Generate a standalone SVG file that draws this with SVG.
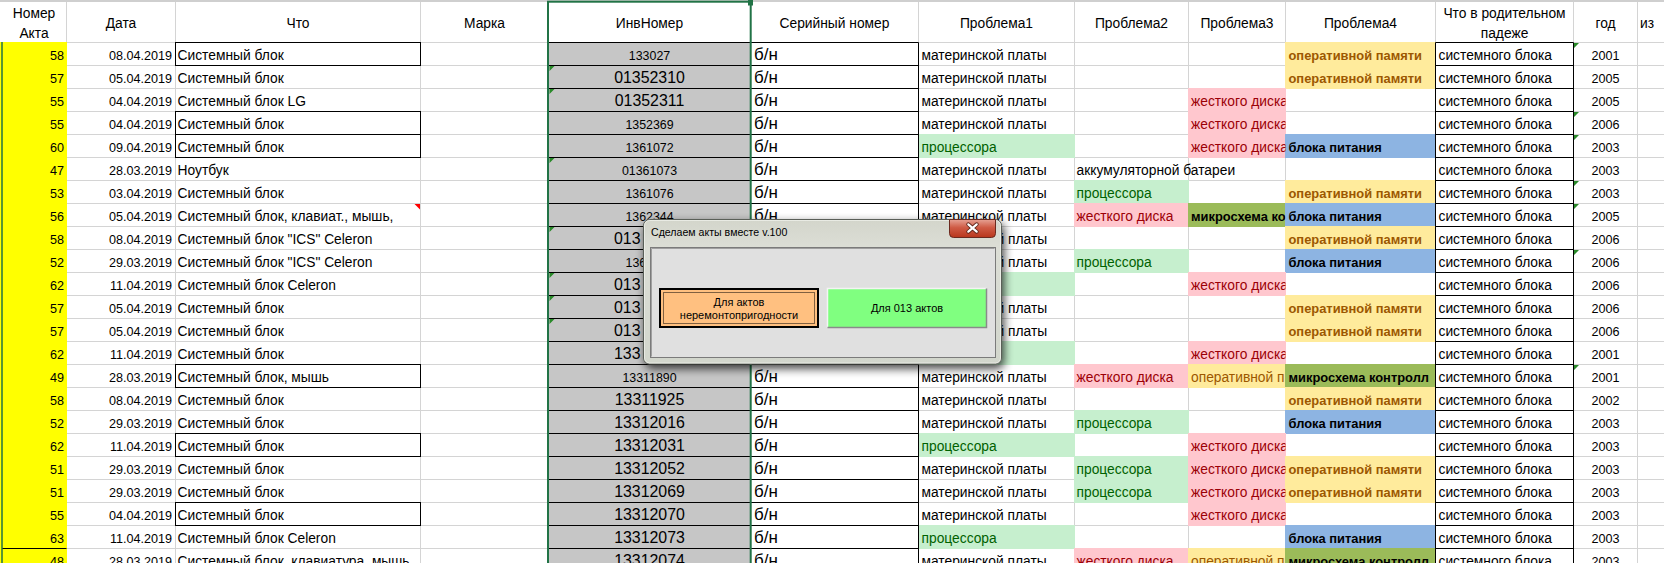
<svg xmlns="http://www.w3.org/2000/svg" width="1664" height="563" viewBox="0 0 1664 563">
<defs>
<style>
text{font-family:"Liberation Sans",Arial,sans-serif;font-size:13.8px;fill:#000}
.n{font-size:12.6px}
.e{text-anchor:end}
.m{text-anchor:middle}
.ib{font-size:15.9px;text-anchor:middle}
.is{font-size:12.4px;text-anchor:middle}
.ibs{font-size:15.9px}
.iss{font-size:12.4px}
.sn{font-size:17px}
.bd{font-weight:bold;font-size:12.9px}
.tg{fill:#006100}.tr{fill:#9c0006}.to{fill:#9c5700}
.grid{stroke:#d4d4d4;stroke-width:1;fill:none}
.blk{stroke:#000;stroke-width:1;fill:none}
.fy{fill:#ffff00}.fg{fill:#c6efce}.fr{fill:#ffc7ce}.fo{fill:#ffeb9c}.fb{fill:#8db4e2}.fd{fill:#9bbb59}.fe{fill:#c6c6c6}
.tri{fill:#2a8a2a}
.dlg text{font-size:11px}
.dlg text.ttl{font-size:10.6px}
</style>
<clipPath id="cI" clipPathUnits="userSpaceOnUse"><rect x="1188.5" y="-5" width="97" height="35"/></clipPath>
<clipPath id="cJ" clipPathUnits="userSpaceOnUse"><rect x="1285.5" y="-5" width="150" height="35"/></clipPath>
<filter id="sh" x="-10%" y="-20%" width="120%" height="145%">
<feGaussianBlur in="SourceAlpha" stdDeviation="5"/>
<feOffset dx="2" dy="4"/>
<feComponentTransfer><feFuncA type="linear" slope="0.75"/></feComponentTransfer>
<feMerge><feMergeNode/><feMergeNode in="SourceGraphic"/></feMerge>
</filter>
<linearGradient id="glass" x1="0" y1="0" x2="0" y2="1">
<stop offset="0" stop-color="#d3d5cb"/><stop offset="0.2" stop-color="#dcded6"/><stop offset="1" stop-color="#d2d6cc"/>
</linearGradient>
<linearGradient id="closeg" x1="0" y1="0" x2="0" y2="1">
<stop offset="0" stop-color="#e6a193"/><stop offset="0.45" stop-color="#cf5b45"/><stop offset="1" stop-color="#b8361c"/>
</linearGradient>
</defs>

<rect x="0" y="0" width="1664" height="563" fill="#fff"/>
<rect x="0" y="0" width="1664" height="2" fill="#cfcfcf"/>

<g id="gridlines">
<path class="grid" d="M66.5 2V563M175.5 2V563M420.5 2V563M548.5 2V563M750.5 2V563M918.5 2V563M1074.5 2V563M1188.5 2V563M1285.5 2V563M1435.5 2V563M1573.5 2V563M1637.5 2V563"/>
<path class="grid" d="M0 42.5H1664M0 65.5H1664M0 88.5H1664M0 111.5H1664M0 134.5H1664M0 157.5H1664M0 180.5H1664M0 203.5H1664M0 226.5H1664M0 249.5H1664M0 272.5H1664M0 295.5H1664M0 318.5H1664M0 341.5H1664M0 364.5H1664M0 387.5H1664M0 410.5H1664M0 433.5H1664M0 456.5H1664M0 479.5H1664M0 502.5H1664M0 525.5H1664M0 548.5H1664"/>
</g>

<g id="column-fills">
<rect class="fy" x="0" y="42" width="67" height="521"/>
<rect class="fe" x="548" y="42" width="203" height="521"/>
</g>

<g id="header">
<text x="34" y="18" class="m">Номер</text>
<text x="34" y="38" class="m">Акта</text>
<text x="121" y="28" class="m">Дата</text>
<text x="298" y="28" class="m">Что</text>
<text x="484.5" y="28" class="m">Марка</text>
<text x="649.5" y="28" class="m">ИнвНомер</text>
<text x="834.5" y="28" class="m">Серийный номер</text>
<text x="996.5" y="28" class="m">Проблема1</text>
<text x="1131.5" y="28" class="m">Проблема2</text>
<text x="1237" y="28" class="m">Проблема3</text>
<text x="1360.5" y="28" class="m">Проблема4</text>
<text x="1504.5" y="18" class="m">Что в родительном</text>
<text x="1504.5" y="38" class="m">падеже</text>
<text x="1605.5" y="28" class="m">год</text>
<text x="1640" y="28">из</text>
</g>

<g id="r0" transform="translate(0,42.5)">
<rect class="fo" x="1285" y="-0.5" width="151" height="24"/>
<text x="64" y="17.5" class="n e">58</text><text x="172" y="17.5" class="n e">08.04.2019</text><text x="177.5" y="17.5">Системный блок</text>
<text x="649.5" y="17.5" class="is">133027</text><text x="754" y="17.5" class="sn">б/н</text>
<text x="921.5" y="17.5">материнской платы</text>
<text x="1288.5" y="17.5" class="bd to">оперативной памяти</text>
<text x="1438.5" y="17.5">системного блока</text><text x="1605.5" y="17.5" class="n m">2001</text>
</g>
<g id="r1" transform="translate(0,65.5)">
<rect class="fo" x="1285" y="-0.5" width="151" height="24"/>
<text x="64" y="17.5" class="n e">57</text><text x="172" y="17.5" class="n e">05.04.2019</text><text x="177.5" y="17.5">Системный блок</text>
<text x="649.5" y="17.5" class="ib">01352310</text><text x="754" y="17.5" class="sn">б/н</text>
<text x="921.5" y="17.5">материнской платы</text>
<text x="1288.5" y="17.5" class="bd to">оперативной памяти</text>
<text x="1438.5" y="17.5">системного блока</text><text x="1605.5" y="17.5" class="n m">2005</text>
</g>
<g id="r2" transform="translate(0,88.5)">
<rect class="fr" x="1188" y="-0.5" width="98" height="24"/>
<text x="64" y="17.5" class="n e">55</text><text x="172" y="17.5" class="n e">04.04.2019</text><text x="177.5" y="17.5">Системный блок LG</text>
<text x="649.5" y="17.5" class="ib">01352311</text><text x="754" y="17.5" class="sn">б/н</text>
<text x="921.5" y="17.5">материнской платы</text>
<text x="1191" y="17.5" class="tr" clip-path="url(#cI)">жесткого диска</text>
<text x="1438.5" y="17.5">системного блока</text><text x="1605.5" y="17.5" class="n m">2005</text>
</g>
<g id="r3" transform="translate(0,111.5)">
<rect class="fr" x="1188" y="-0.5" width="98" height="24"/>
<text x="64" y="17.5" class="n e">55</text><text x="172" y="17.5" class="n e">04.04.2019</text><text x="177.5" y="17.5">Системный блок</text>
<text x="649.5" y="17.5" class="is">1352369</text><text x="754" y="17.5" class="sn">б/н</text>
<text x="921.5" y="17.5">материнской платы</text>
<text x="1191" y="17.5" class="tr" clip-path="url(#cI)">жесткого диска</text>
<text x="1438.5" y="17.5">системного блока</text><text x="1605.5" y="17.5" class="n m">2006</text>
</g>
<g id="r4" transform="translate(0,134.5)">
<rect class="fg" x="918" y="-0.5" width="157" height="24"/>
<rect class="fr" x="1188" y="-0.5" width="98" height="24"/>
<rect class="fb" x="1285" y="-0.5" width="151" height="24"/>
<text x="64" y="17.5" class="n e">60</text><text x="172" y="17.5" class="n e">09.04.2019</text><text x="177.5" y="17.5">Системный блок</text>
<text x="649.5" y="17.5" class="is">1361072</text><text x="754" y="17.5" class="sn">б/н</text>
<text x="921.5" y="17.5" class="tg">процессора</text>
<text x="1191" y="17.5" class="tr" clip-path="url(#cI)">жесткого диска</text>
<text x="1288.5" y="17.5" class="bd">блока питания</text>
<text x="1438.5" y="17.5">системного блока</text><text x="1605.5" y="17.5" class="n m">2003</text>
</g>
<g id="r5" transform="translate(0,157.5)">
<text x="64" y="17.5" class="n e">47</text><text x="172" y="17.5" class="n e">28.03.2019</text><text x="177.5" y="17.5">Ноутбук</text>
<text x="649.5" y="17.5" class="is">01361073</text><text x="754" y="17.5" class="sn">б/н</text>
<text x="921.5" y="17.5">материнской платы</text>
<text x="1076.5" y="17.5">аккумуляторной батареи</text>
<text x="1438.5" y="17.5">системного блока</text><text x="1605.5" y="17.5" class="n m">2003</text>
</g>
<g id="r6" transform="translate(0,180.5)">
<rect class="fg" x="1074" y="-0.5" width="115" height="24"/>
<rect class="fo" x="1285" y="-0.5" width="151" height="24"/>
<text x="64" y="17.5" class="n e">53</text><text x="172" y="17.5" class="n e">03.04.2019</text><text x="177.5" y="17.5">Системный блок</text>
<text x="649.5" y="17.5" class="is">1361076</text><text x="754" y="17.5" class="sn">б/н</text>
<text x="921.5" y="17.5">материнской платы</text>
<text x="1076.5" y="17.5" class="tg">процессора</text>
<text x="1288.5" y="17.5" class="bd to">оперативной памяти</text>
<text x="1438.5" y="17.5">системного блока</text><text x="1605.5" y="17.5" class="n m">2003</text>
</g>
<g id="r7" transform="translate(0,203.5)">
<rect class="fr" x="1074" y="-0.5" width="115" height="24"/>
<rect class="fd" x="1188" y="-0.5" width="98" height="24"/>
<rect class="fb" x="1285" y="-0.5" width="151" height="24"/>
<text x="64" y="17.5" class="n e">56</text><text x="172" y="17.5" class="n e">05.04.2019</text><text x="177.5" y="17.5">Системный блок, клавиат., мышь,</text>
<text x="649.5" y="17.5" class="is">1362344</text><text x="754" y="17.5" class="sn">б/н</text>
<text x="921.5" y="17.5">материнской платы</text>
<text x="1076.5" y="17.5" class="tr">жесткого диска</text>
<text x="1191" y="17.5" class="bd" clip-path="url(#cI)">микросхема ко</text>
<text x="1288.5" y="17.5" class="bd">блока питания</text>
<text x="1438.5" y="17.5">системного блока</text><text x="1605.5" y="17.5" class="n m">2005</text>
</g>
<g id="r8" transform="translate(0,226.5)">
<rect class="fo" x="1285" y="-0.5" width="151" height="24"/>
<text x="64" y="17.5" class="n e">58</text><text x="172" y="17.5" class="n e">08.04.2019</text><text x="177.5" y="17.5">Системный блок "ICS" Celeron</text>
<text x="614" y="17.5" class="ibs">013</text>
<text x="996.5" y="17.5">й платы</text>
<text x="1288.5" y="17.5" class="bd to">оперативной памяти</text>
<text x="1438.5" y="17.5">системного блока</text><text x="1605.5" y="17.5" class="n m">2006</text>
</g>
<g id="r9" transform="translate(0,249.5)">
<rect class="fg" x="1074" y="-0.5" width="115" height="24"/>
<rect class="fb" x="1285" y="-0.5" width="151" height="24"/>
<text x="64" y="17.5" class="n e">52</text><text x="172" y="17.5" class="n e">29.03.2019</text><text x="177.5" y="17.5">Системный блок "ICS" Celeron</text>
<text x="625.5" y="17.5" class="iss">136</text>
<text x="996.5" y="17.5">й платы</text>
<text x="1076.5" y="17.5" class="tg">процессора</text>
<text x="1288.5" y="17.5" class="bd">блока питания</text>
<text x="1438.5" y="17.5">системного блока</text><text x="1605.5" y="17.5" class="n m">2006</text>
</g>
<g id="r10" transform="translate(0,272.5)">
<rect class="fg" x="918" y="-0.5" width="157" height="24"/>
<rect class="fr" x="1188" y="-0.5" width="98" height="24"/>
<text x="64" y="17.5" class="n e">62</text><text x="172" y="17.5" class="n e">11.04.2019</text><text x="177.5" y="17.5">Системный блок Celeron</text>
<text x="614" y="17.5" class="ibs">013</text>
<text x="1191" y="17.5" class="tr" clip-path="url(#cI)">жесткого диска</text>
<text x="1438.5" y="17.5">системного блока</text><text x="1605.5" y="17.5" class="n m">2006</text>
</g>
<g id="r11" transform="translate(0,295.5)">
<rect class="fo" x="1285" y="-0.5" width="151" height="24"/>
<text x="64" y="17.5" class="n e">57</text><text x="172" y="17.5" class="n e">05.04.2019</text><text x="177.5" y="17.5">Системный блок</text>
<text x="614" y="17.5" class="ibs">013</text>
<text x="996.5" y="17.5">й платы</text>
<text x="1288.5" y="17.5" class="bd to">оперативной памяти</text>
<text x="1438.5" y="17.5">системного блока</text><text x="1605.5" y="17.5" class="n m">2006</text>
</g>
<g id="r12" transform="translate(0,318.5)">
<rect class="fo" x="1285" y="-0.5" width="151" height="24"/>
<text x="64" y="17.5" class="n e">57</text><text x="172" y="17.5" class="n e">05.04.2019</text><text x="177.5" y="17.5">Системный блок</text>
<text x="614" y="17.5" class="ibs">013</text>
<text x="996.5" y="17.5">й платы</text>
<text x="1288.5" y="17.5" class="bd to">оперативной памяти</text>
<text x="1438.5" y="17.5">системного блока</text><text x="1605.5" y="17.5" class="n m">2006</text>
</g>
<g id="r13" transform="translate(0,341.5)">
<rect class="fg" x="918" y="-0.5" width="157" height="24"/>
<rect class="fr" x="1188" y="-0.5" width="98" height="24"/>
<text x="64" y="17.5" class="n e">62</text><text x="172" y="17.5" class="n e">11.04.2019</text><text x="177.5" y="17.5">Системный блок</text>
<text x="614" y="17.5" class="ibs">133</text>
<text x="1191" y="17.5" class="tr" clip-path="url(#cI)">жесткого диска</text>
<text x="1438.5" y="17.5">системного блока</text><text x="1605.5" y="17.5" class="n m">2001</text>
</g>
<g id="r14" transform="translate(0,364.5)">
<rect class="fr" x="1074" y="-0.5" width="115" height="24"/>
<rect class="fo" x="1188" y="-0.5" width="98" height="24"/>
<rect class="fd" x="1285" y="-0.5" width="151" height="24"/>
<text x="64" y="17.5" class="n e">49</text><text x="172" y="17.5" class="n e">28.03.2019</text><text x="177.5" y="17.5">Системный блок, мышь</text>
<text x="649.5" y="17.5" class="is">13311890</text><text x="754" y="17.5" class="sn">б/н</text>
<text x="921.5" y="17.5">материнской платы</text>
<text x="1076.5" y="17.5" class="tr">жесткого диска</text>
<text x="1191" y="17.5" class="to" clip-path="url(#cI)">оперативной п</text>
<text x="1288.5" y="17.5" class="bd" clip-path="url(#cJ)">микросхема контролл</text>
<text x="1438.5" y="17.5">системного блока</text><text x="1605.5" y="17.5" class="n m">2001</text>
</g>
<g id="r15" transform="translate(0,387.5)">
<rect class="fo" x="1285" y="-0.5" width="151" height="24"/>
<text x="64" y="17.5" class="n e">58</text><text x="172" y="17.5" class="n e">08.04.2019</text><text x="177.5" y="17.5">Системный блок</text>
<text x="649.5" y="17.5" class="ib">13311925</text><text x="754" y="17.5" class="sn">б/н</text>
<text x="921.5" y="17.5">материнской платы</text>
<text x="1288.5" y="17.5" class="bd to">оперативной памяти</text>
<text x="1438.5" y="17.5">системного блока</text><text x="1605.5" y="17.5" class="n m">2002</text>
</g>
<g id="r16" transform="translate(0,410.5)">
<rect class="fg" x="1074" y="-0.5" width="115" height="24"/>
<rect class="fb" x="1285" y="-0.5" width="151" height="24"/>
<text x="64" y="17.5" class="n e">52</text><text x="172" y="17.5" class="n e">29.03.2019</text><text x="177.5" y="17.5">Системный блок</text>
<text x="649.5" y="17.5" class="ib">13312016</text><text x="754" y="17.5" class="sn">б/н</text>
<text x="921.5" y="17.5">материнской платы</text>
<text x="1076.5" y="17.5" class="tg">процессора</text>
<text x="1288.5" y="17.5" class="bd">блока питания</text>
<text x="1438.5" y="17.5">системного блока</text><text x="1605.5" y="17.5" class="n m">2003</text>
</g>
<g id="r17" transform="translate(0,433.5)">
<rect class="fg" x="918" y="-0.5" width="157" height="24"/>
<rect class="fr" x="1188" y="-0.5" width="98" height="24"/>
<text x="64" y="17.5" class="n e">62</text><text x="172" y="17.5" class="n e">11.04.2019</text><text x="177.5" y="17.5">Системный блок</text>
<text x="649.5" y="17.5" class="ib">13312031</text><text x="754" y="17.5" class="sn">б/н</text>
<text x="921.5" y="17.5" class="tg">процессора</text>
<text x="1191" y="17.5" class="tr" clip-path="url(#cI)">жесткого диска</text>
<text x="1438.5" y="17.5">системного блока</text><text x="1605.5" y="17.5" class="n m">2003</text>
</g>
<g id="r18" transform="translate(0,456.5)">
<rect class="fg" x="1074" y="-0.5" width="115" height="24"/>
<rect class="fr" x="1188" y="-0.5" width="98" height="24"/>
<rect class="fo" x="1285" y="-0.5" width="151" height="24"/>
<text x="64" y="17.5" class="n e">51</text><text x="172" y="17.5" class="n e">29.03.2019</text><text x="177.5" y="17.5">Системный блок</text>
<text x="649.5" y="17.5" class="ib">13312052</text><text x="754" y="17.5" class="sn">б/н</text>
<text x="921.5" y="17.5">материнской платы</text>
<text x="1076.5" y="17.5" class="tg">процессора</text>
<text x="1191" y="17.5" class="tr" clip-path="url(#cI)">жесткого диска</text>
<text x="1288.5" y="17.5" class="bd to">оперативной памяти</text>
<text x="1438.5" y="17.5">системного блока</text><text x="1605.5" y="17.5" class="n m">2003</text>
</g>
<g id="r19" transform="translate(0,479.5)">
<rect class="fg" x="1074" y="-0.5" width="115" height="24"/>
<rect class="fr" x="1188" y="-0.5" width="98" height="24"/>
<rect class="fo" x="1285" y="-0.5" width="151" height="24"/>
<text x="64" y="17.5" class="n e">51</text><text x="172" y="17.5" class="n e">29.03.2019</text><text x="177.5" y="17.5">Системный блок</text>
<text x="649.5" y="17.5" class="ib">13312069</text><text x="754" y="17.5" class="sn">б/н</text>
<text x="921.5" y="17.5">материнской платы</text>
<text x="1076.5" y="17.5" class="tg">процессора</text>
<text x="1191" y="17.5" class="tr" clip-path="url(#cI)">жесткого диска</text>
<text x="1288.5" y="17.5" class="bd to">оперативной памяти</text>
<text x="1438.5" y="17.5">системного блока</text><text x="1605.5" y="17.5" class="n m">2003</text>
</g>
<g id="r20" transform="translate(0,502.5)">
<rect class="fr" x="1188" y="-0.5" width="98" height="24"/>
<text x="64" y="17.5" class="n e">55</text><text x="172" y="17.5" class="n e">04.04.2019</text><text x="177.5" y="17.5">Системный блок</text>
<text x="649.5" y="17.5" class="ib">13312070</text><text x="754" y="17.5" class="sn">б/н</text>
<text x="921.5" y="17.5">материнской платы</text>
<text x="1191" y="17.5" class="tr" clip-path="url(#cI)">жесткого диска</text>
<text x="1438.5" y="17.5">системного блока</text><text x="1605.5" y="17.5" class="n m">2003</text>
</g>
<g id="r21" transform="translate(0,525.5)">
<rect class="fg" x="918" y="-0.5" width="157" height="24"/>
<rect class="fb" x="1285" y="-0.5" width="151" height="24"/>
<text x="64" y="17.5" class="n e">63</text><text x="172" y="17.5" class="n e">11.04.2019</text><text x="177.5" y="17.5">Системный блок Celeron</text>
<text x="649.5" y="17.5" class="ib">13312073</text><text x="754" y="17.5" class="sn">б/н</text>
<text x="921.5" y="17.5" class="tg">процессора</text>
<text x="1288.5" y="17.5" class="bd">блока питания</text>
<text x="1438.5" y="17.5">системного блока</text><text x="1605.5" y="17.5" class="n m">2003</text>
</g>
<g id="r22" transform="translate(0,548.5)">
<rect class="fr" x="1074" y="-0.5" width="115" height="24"/>
<rect class="fo" x="1188" y="-0.5" width="98" height="24"/>
<rect class="fd" x="1285" y="-0.5" width="151" height="24"/>
<text x="64" y="17.5" class="n e">48</text><text x="172" y="17.5" class="n e">28.03.2019</text><text x="177.5" y="17.5">Системный блок, клавиатура, мышь</text>
<text x="649.5" y="17.5" class="ib">13312074</text><text x="754" y="17.5" class="sn">б/н</text>
<text x="921.5" y="17.5">материнской платы</text>
<text x="1076.5" y="17.5" class="tr">жесткого диска</text>
<text x="1191" y="17.5" class="to" clip-path="url(#cI)">оперативной п</text>
<text x="1288.5" y="17.5" class="bd" clip-path="url(#cJ)">микросхема контролл</text>
<text x="1438.5" y="17.5">системного блока</text><text x="1605.5" y="17.5" class="n m">2003</text>
</g>

<g id="cell-borders">
<path class="blk" d="M548.5 42.5H918.5M548.5 65.5H918.5M548.5 88.5H918.5M548.5 111.5H918.5M548.5 134.5H918.5M548.5 157.5H918.5M548.5 180.5H918.5M548.5 203.5H918.5M548.5 226.5H918.5M548.5 249.5H918.5M548.5 272.5H918.5M548.5 295.5H918.5M548.5 318.5H918.5M548.5 341.5H918.5M548.5 364.5H918.5M548.5 387.5H918.5M548.5 410.5H918.5M548.5 433.5H918.5M548.5 456.5H918.5M548.5 479.5H918.5M548.5 502.5H918.5M548.5 525.5H918.5M548.5 548.5H918.5M918.5 42.5V563"/>
<path class="blk" d="M1435.5 42.5H1573.5M1435.5 65.5H1573.5M1435.5 88.5H1573.5M1435.5 111.5H1573.5M1435.5 134.5H1573.5M1435.5 157.5H1573.5M1435.5 180.5H1573.5M1435.5 203.5H1573.5M1435.5 226.5H1573.5M1435.5 249.5H1573.5M1435.5 272.5H1573.5M1435.5 295.5H1573.5M1435.5 318.5H1573.5M1435.5 341.5H1573.5M1435.5 364.5H1573.5M1435.5 387.5H1573.5M1435.5 410.5H1573.5M1435.5 433.5H1573.5M1435.5 456.5H1573.5M1435.5 479.5H1573.5M1435.5 502.5H1573.5M1435.5 525.5H1573.5M1435.5 548.5H1573.5M1435.5 42.5V563M1573.5 42.5V563"/>
<rect class="blk" x="175.5" y="42.5" width="245" height="23"/>
<rect class="blk" x="175.5" y="111.5" width="245" height="46"/>
<path class="blk" d="M175.5 134.5H420.5"/>
<rect class="blk" x="175.5" y="364.5" width="245" height="23"/>
<rect class="blk" x="175.5" y="433.5" width="245" height="23"/>
<rect class="blk" x="175.5" y="502.5" width="245" height="23"/>
<path class="blk" d="M2 548.5H66.5"/>
</g>

<g id="cell-markers">
<path class="tri" d="M549.5 66h5l-5 5zM549.5 89h5l-5 5zM549.5 158h5l-5 5zM549.5 227h5l-5 5zM549.5 273h5l-5 5zM549.5 296h5l-5 5zM549.5 319h5l-5 5z"/>
<path class="tri" d="M1574 43h5l-5 5zM1574 112h5l-5 5zM1574 135h5l-5 5zM1574 181h5l-5 5zM1574 204h5l-5 5zM1574 250h5l-5 5zM1574 365h5l-5 5z"/>
<path fill="#ff0000" d="M414.5 204H420V209.5Z"/>
</g>

<g id="selection">
<line x1="2" y1="42" x2="2" y2="563" stroke="#217346" stroke-width="1.5"/>
<rect x="548" y="1.7" width="202.7" height="570" fill="none" stroke="#217346" stroke-width="2"/>
<rect x="748" y="0" width="5" height="5.5" fill="#217346"/>
</g>

<g id="dialog" class="dlg">
<rect x="643.5" y="219.5" width="358" height="144.5" rx="6" fill="url(#glass)" stroke="#5a5e58" stroke-width="1" filter="url(#sh)"/>
<rect x="644.5" y="220.5" width="356" height="142.5" rx="5" fill="none" stroke="#f2f3ee" stroke-opacity="0.7" stroke-width="1"/>
<text x="651" y="236" class="ttl">Сделаем акты вместе v.100</text>
<g id="close-button">
<path d="M949.5 219.5H995.5V233.5Q995.5 237.5 991.5 237.5H953.5Q949.5 237.5 949.5 233.5Z" fill="url(#closeg)" stroke="#6b2a1f" stroke-width="1"/>
<path d="M968.3 224.3L976.7 231.7M976.7 224.3L968.3 231.7" stroke="#5e2418" stroke-width="4" stroke-linecap="round"/>
<path d="M968.3 224.3L976.7 231.7M976.7 224.3L968.3 231.7" stroke="#ffffff" stroke-width="2.2" stroke-linecap="round"/>
</g>
<rect x="650.5" y="247.5" width="345" height="110" fill="#e0e0e0" stroke="#7b7b7b" stroke-width="1"/>
<path d="M651.5 356.5V248.5H994.5" fill="none" stroke="#a0a0a0" stroke-width="1"/>
<g id="btn-unrepairable">
<rect x="660" y="289" width="158" height="38" fill="#ffc080" stroke="#000" stroke-width="2"/>
<rect x="663.5" y="292.5" width="151" height="31" fill="none" stroke="#000" stroke-width="1" stroke-dasharray="1 1"/>
<text x="739" y="306" class="m">Для актов</text>
<text x="739" y="319" class="m">неремонтопригодности</text>
</g>
<g id="btn-013">
<rect x="827.5" y="288.5" width="159" height="39" fill="#80ff80"/>
<path d="M827.5 327.5V288.5H986.5" fill="none" stroke="#f4f4f4" stroke-width="1.5"/>
<path d="M986.5 288.5V327.5H827.5" fill="none" stroke="#8a8a8a" stroke-width="1.5"/>
<text x="907" y="312" class="m">Для 013 актов</text>
</g>
</g>
</svg>
